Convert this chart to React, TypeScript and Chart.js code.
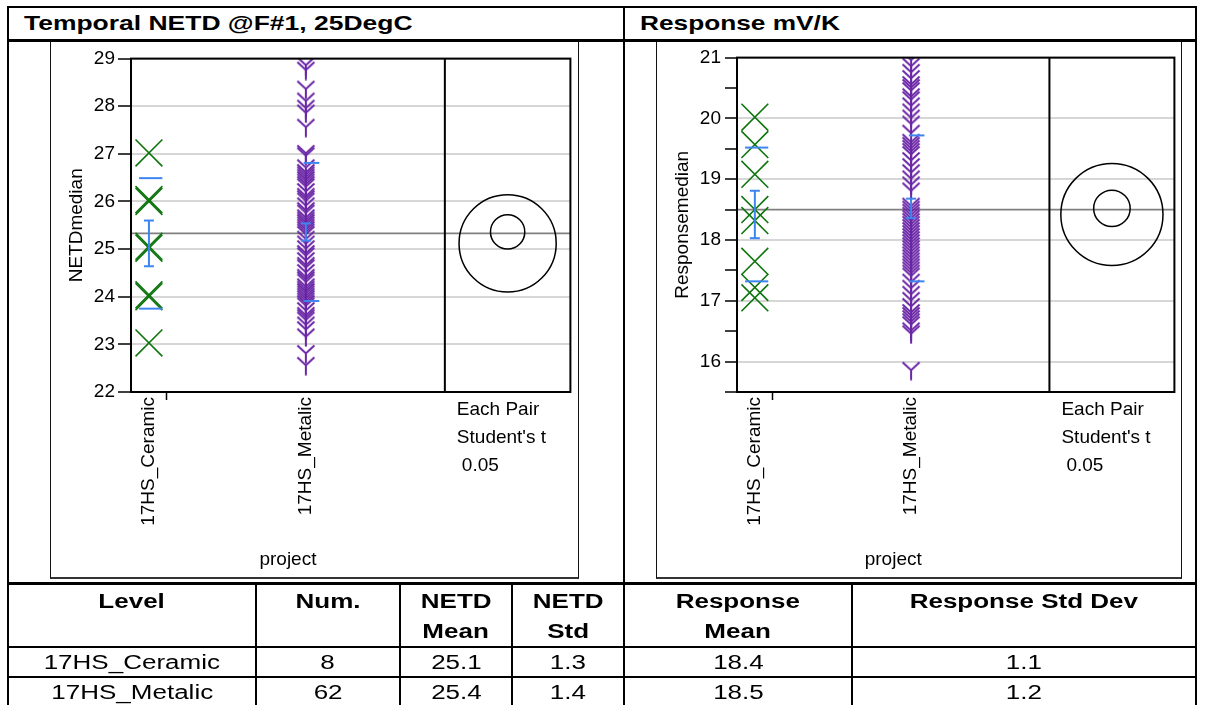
import React, { useEffect, useRef } from "react";
import { Chart, registerables } from "chart.js";
Chart.register(...registerables);

const FONT = "'Liberation Sans', Arial, Helvetica, sans-serif";
Chart.defaults.font.family = FONT;

// ---------- data ----------
const levels = ["17HS_Ceramic", "17HS_Metalic"];
const levelCounts = [8, 62];

const netdCeramic = [27.02, 26.04, 26.0, 25.06, 25.02, 24.04, 24.0, 23.03];
const netdMetalic = [
  28.85, 28.75, 28.35, 28.1, 27.95, 27.85, 27.55, 27.0, 26.95,
  26.7, 26.6, 26.55, 26.5, 26.45, 26.4, 26.35, 26.3, 26.2, 26.1,
  26.05, 26.0, 25.9, 25.8, 25.75, 25.65, 25.6, 25.55, 25.5, 25.45,
  25.4, 25.35, 25.3, 25.2, 25.1, 25.0, 24.9, 24.85, 24.75, 24.65,
  24.6, 24.5, 24.4, 24.35, 24.3, 24.2, 24.15, 24.1, 24.05, 24.0,
  23.95, 23.9, 23.85, 23.8, 23.7, 23.6, 23.55, 23.5, 23.4, 23.3, 23.15,
  22.8, 22.55,
];
const respCeramic = [20.02, 19.57, 19.08, 18.5, 18.32, 17.65, 17.22, 17.05];
const respMetalic = [
  20.95, 20.85, 20.75, 20.65, 20.55, 20.5, 20.45, 20.35, 20.3, 20.2, 20.1, 20.0, 19.9, 19.75,
  19.6, 19.55, 19.5, 19.45, 19.4, 19.3, 19.2, 19.1, 19.0, 18.9, 18.8,
  18.5, 18.45, 18.4, 18.35, 18.3, 18.25, 18.2, 18.15, 18.1, 18.05, 18.0, 17.95,
  17.9, 17.85, 17.8, 17.75, 17.7, 17.65, 17.6, 17.55, 17.5, 17.45, 17.4,
  17.3, 17.2, 17.1, 17.0, 16.9, 16.8, 16.75, 16.7, 16.65, 16.6, 16.5, 16.45,
  15.85, 18.55,
];

const netdMeans = [25.12, 25.36];
const netdStdDevs = [1.37, 1.45];
const netdStdErrs = [0.48, 0.18];
const netdCompRadii = [1.02, 0.36];
const netdGrandMean = 25.33;
const netdAxisMin = 22;
const netdAxisMax = 29;
const netdAxisStep = 1;

const respMeans = [18.42, 18.52];
const respStdDevs = [1.1, 1.2];
const respStdErrs = [0.39, 0.16];
const respCompRadii = [0.84, 0.3];
const respGrandMean = 18.5;
const respAxisMin = 15.5;
const respAxisMax = 21;
const respAxisStep = 0.5;

const tableNum = ["8", "62"];
const tableNetdMean = ["25.1", "25.4"];
const tableNetdStd = ["1.3", "1.4"];
const tableRespMean = ["18.4", "18.5"];
const tableRespStd = ["1.1", "1.2"];

// ---------- styles ----------
const GREEN = "#0f760f";
const PURPLE = "#6a26a6";
const BLUE = "#3d85f0";
const GRID = "#d6d6d6";
const MEANLINE = "#808080";
const STD_SPAN = [[-2.2, 3.0], [-0.5, 3.0]];

function isInt(v: number) {
  return Math.abs(v - Math.round(v)) < 1e-6;
}

function makeYMarker(color: string) {
  const c = document.createElement("canvas");
  c.width = 20;
  c.height = 20;
  const g = c.getContext("2d")!;
  g.strokeStyle = color;
  g.lineWidth = 2;
  g.beginPath();
  g.moveTo(1.5, 1.5);
  g.lineTo(10, 9.5);
  g.lineTo(18.5, 1.5);
  g.moveTo(10, 9.5);
  g.lineTo(10, 19.5);
  g.stroke();
  return c;
}

type PanelCfg = {
  series: number[][];
  means: number[];
  stdDevs: number[];
  stdErrs: number[];
  compRadii: number[];
  grandMean: number;
  min: number;
  max: number;
  step: number;
  yTitle: string;
  padTop: number;
  tickLen: number;
  tickPad: number;
};

function JmpChart({ left, top, width, height, cfg }: { left: number; top: number; width: number; height: number; cfg: PanelCfg }) {
  const ref = useRef<HTMLCanvasElement>(null);
  useEffect(() => {
    const total = levelCounts.reduce((a, b) => a + b, 0);
    const starts = levelCounts.map((_, i) => levelCounts.slice(0, i).reduce((a, b) => a + b, 0));
    const centers = levelCounts.map((n, i) => starts[i] + n / 2);
    const bounds = starts.slice(1);
    const xMax = total * 1.4;
    const xTicks = [...centers, ...bounds].sort((a, b) => a - b);
    const yImg = makeYMarker(PURPLE);

    const plugin = {
      id: "jmpOverlay",
      beforeDatasetsDraw(chart: any) {
        const { ctx, chartArea: a } = chart;
        const y = chart.scales.y;
        ctx.save();
        ctx.strokeStyle = MEANLINE;
        ctx.lineWidth = 1.6;
        const gy = y.getPixelForValue(cfg.grandMean);
        ctx.beginPath();
        ctx.moveTo(a.left, gy);
        ctx.lineTo(a.right, gy);
        ctx.stroke();
        ctx.restore();
      },
      afterDatasetsDraw(chart: any) {
        const { ctx, chartArea: a } = chart;
        const x = chart.scales.x;
        const y = chart.scales.y;
        const seg = (x1: number, y1: number, x2: number, y2: number) => {
          ctx.beginPath();
          ctx.moveTo(x1, y1);
          ctx.lineTo(x2, y2);
          ctx.stroke();
        };
        ctx.save();
        ctx.strokeStyle = BLUE;
        ctx.lineWidth = 2;
        centers.forEach((c, i) => {
          const m = cfg.means[i];
          const sd = cfg.stdDevs[i];
          const se = cfg.stdErrs[i];
          [m + sd, m - sd].forEach((v) => {
            const py = y.getPixelForValue(v);
            seg(x.getPixelForValue(c + STD_SPAN[i][0]), py, x.getPixelForValue(c + STD_SPAN[i][1]), py);
          });
          const px = x.getPixelForValue(c);
          const t = y.getPixelForValue(m + se);
          const b = y.getPixelForValue(m - se);
          seg(px, t, px, b);
          seg(px - 5, t, px + 5, t);
          seg(px - 5, b, px + 5, b);
        });
        ctx.strokeStyle = "#000";
        ctx.lineWidth = 2;
        ctx.strokeRect(a.left, a.top, a.right - a.left, a.bottom - a.top);
        const dx = x.getPixelForValue(total);
        seg(dx, a.top, dx, a.bottom);
        ctx.lineWidth = 1.5;
        const cx = x.getPixelForValue((total + xMax) / 2);
        cfg.means.forEach((m, i) => {
          const cy = y.getPixelForValue(m);
          const r = Math.abs(y.getPixelForValue(m + cfg.compRadii[i]) - cy);
          ctx.beginPath();
          ctx.arc(cx, cy, r, 0, Math.PI * 2);
          ctx.stroke();
        });
        ctx.fillStyle = "#000";
        ctx.font = `19px ${FONT}`;
        ctx.textBaseline = "middle";
        ctx.textAlign = "left";
        ctx.fillText("Each Pair", dx + 12, a.bottom + 18);
        ctx.fillText("Student's t", dx + 12, a.bottom + 46);
        ctx.fillText("0.05", dx + 17, a.bottom + 74);
        ctx.textAlign = "center";
        ctx.fillText("project", (x.getPixelForValue(0) + dx) / 2, a.bottom + 168);
        ctx.restore();
      },
    };

    const chart = new Chart(ref.current!, {
      type: "scatter",
      data: {
        datasets: [
          {
            data: cfg.series[0].map((v) => ({ x: centers[0], y: v })),
            pointStyle: "crossRot",
            pointRadius: 19,
            borderColor: GREEN,
            backgroundColor: "transparent",
            borderWidth: 1.6,
          } as any,
          {
            data: cfg.series[1].map((v) => ({ x: centers[1], y: v })),
            pointStyle: yImg,
            pointRadius: 10,
            borderColor: PURPLE,
            backgroundColor: PURPLE,
          } as any,
        ],
      },
      options: {
        responsive: false,
        animation: false,
        devicePixelRatio: 1,
        layout: { padding: { top: cfg.padTop, right: 7, left: 0, bottom: 0 } },
        plugins: { legend: { display: false }, tooltip: { enabled: false } },
        scales: {
          x: {
            type: "linear",
            min: 0,
            max: xMax,
            afterFit: (s: any) => {
              s.height = 186;
              s.paddingLeft = 0;
              s.paddingRight = 0;
            },
            afterBuildTicks: (s: any) => {
              s.ticks = xTicks.map((v) => ({ value: v }));
            },
            ticks: {
              autoSkip: false,
              minRotation: 90,
              maxRotation: 90,
              padding: -3,
              color: "#000",
              font: { size: 19, family: FONT },
              callback: (v: any) => {
                const i = centers.findIndex((c) => Math.abs(c - Number(v)) < 1e-9);
                return i >= 0 ? levels[i] : "";
              },
            },
            grid: {
              drawOnChartArea: false,
              tickLength: 8,
              tickWidth: 1.5,
              tickColor: (ctx: any) =>
                ctx.tick && bounds.some((b) => Math.abs(b - ctx.tick.value) < 1e-9) ? "#000" : "transparent",
            },
            border: { display: true, color: "#000", width: 2 },
          },
          y: {
            type: "linear",
            min: cfg.min,
            max: cfg.max,
            afterFit: (s: any) => {
              s.width = 79;
              s.paddingTop = 0;
              s.paddingBottom = 0;
            },
            ticks: {
              stepSize: cfg.step,
              autoSkip: false,
              color: "#000",
              padding: cfg.tickPad,
              font: { size: 19, family: FONT },
              callback: (v: any) => (isInt(Number(v)) ? String(Math.round(Number(v))) : ""),
            },
            grid: {
              color: (ctx: any) => (ctx.tick && isInt(ctx.tick.value) ? GRID : "transparent"),
              lineWidth: 2,
              tickLength: cfg.tickLen,
              tickColor: "#000",
              tickWidth: 1.5,
            },
            border: { display: true, color: "#000", width: 2 },
            title: {
              display: true,
              text: cfg.yTitle,
              color: "#000",
              font: { size: 19, family: FONT },
              padding: { top: 13, bottom: 0 },
            },
          },
        },
      } as any,
      plugins: [plugin as any],
    });
    return () => chart.destroy();
  }, []);
  return (
    <canvas
      ref={ref}
      width={width}
      height={height}
      style={{ position: "absolute", left, top, width, height }}
    />
  );
}

const netdCfg: PanelCfg = {
  series: [netdCeramic, netdMetalic],
  means: netdMeans,
  stdDevs: netdStdDevs,
  stdErrs: netdStdErrs,
  compRadii: netdCompRadii,
  grandMean: netdGrandMean,
  min: netdAxisMin,
  max: netdAxisMax,
  step: netdAxisStep,
  yTitle: "NETDmedian",
  padTop: 17,
  tickLen: 13,
  tickPad: 3,
};

const respCfg: PanelCfg = {
  series: [respCeramic, respMetalic],
  means: respMeans,
  stdDevs: respStdDevs,
  stdErrs: respStdErrs,
  compRadii: respCompRadii,
  grandMean: respGrandMean,
  min: respAxisMin,
  max: respAxisMax,
  step: respAxisStep,
  yTitle: "Responsemedian",
  padTop: 16,
  tickLen: 12,
  tickPad: 4,
};

function Line({ x, y, w, h }: { x: number; y: number; w: number; h: number }) {
  return <div style={{ position: "absolute", left: x, top: y, width: w, height: h, background: "#000" }} />;
}

function Cell({ x, w, y, lines, bold }: { x: number; w: number; y: number; lines: string[]; bold?: boolean }) {
  return (
    <div
      style={{
        position: "absolute",
        left: x,
        top: y,
        width: w,
        textAlign: "center",
        fontSize: 20,
        lineHeight: "30px",
        fontWeight: bold ? "bold" : "normal",
        whiteSpace: "nowrap",
      }}
    >
      {lines.map((t, i) => (
        <div key={i}>
          <span style={{ display: "inline-block", transform: "scaleX(1.3)" }}>{t}</span>
        </div>
      ))}
    </div>
  );
}

export default function App() {
  const cols = [8, 256, 400, 512, 624, 852, 1196];
  const headers = [["Level"], ["Num."], ["NETD", "Mean"], ["NETD", "Std"], ["Response", "Mean"], ["Response Std Dev"]];
  const rows = levels.map((lv, i) => [lv, tableNum[i], tableNetdMean[i], tableNetdStd[i], tableRespMean[i], tableRespStd[i]]);
  return (
    <div
      style={{
        position: "absolute",
        left: 0,
        top: 0,
        width: 1208,
        height: 705,
        overflow: "hidden",
        background: "#fff",
        fontFamily: FONT,
        color: "#000",
      }}
    >
      <div style={{ position: "absolute", left: 24, top: 6, lineHeight: "33px", fontSize: 21, fontWeight: "bold", whiteSpace: "nowrap", transform: "scaleX(1.26)", transformOrigin: "left center" }}>
        Temporal NETD @F#1, 25DegC
      </div>
      <div style={{ position: "absolute", left: 640, top: 6, lineHeight: "33px", fontSize: 21, fontWeight: "bold", whiteSpace: "nowrap", transform: "scaleX(1.25)", transformOrigin: "left center" }}>
        Response mV/K
      </div>

      <div style={{ position: "absolute", left: 50, top: 41, width: 527, height: 536, borderLeft: "1.5px solid #111", borderRight: "1.5px solid #111", borderBottom: "2px solid #333" }} />
      <div style={{ position: "absolute", left: 656, top: 41, width: 524, height: 536, borderLeft: "1.5px solid #111", borderRight: "1.5px solid #111", borderBottom: "2px solid #333" }} />

      <JmpChart left={52} top={38} width={539} height={540} cfg={netdCfg} />
      <JmpChart left={658} top={37} width={537} height={541} cfg={respCfg} />

      <Line x={7} y={6} w={1190} h={2} />
      <Line x={7} y={39} w={1190} h={3} />
      <Line x={7} y={6} w={2} h={699} />
      <Line x={623} y={6} w={2} h={699} />
      <Line x={1195} y={6} w={2} h={699} />
      <Line x={7} y={582} w={1190} h={3} />
      <Line x={7} y={646} w={1190} h={2} />
      <Line x={7} y={676} w={1190} h={2} />
      {[256, 400, 512, 852].map((x) => (
        <Line key={x} x={x - 1} y={583} w={2} h={122} />
      ))}

      {headers.map((h, i) => (
        <Cell key={"h" + i} x={cols[i]} w={cols[i + 1] - cols[i]} y={586} lines={h} bold />
      ))}
      {rows.map((r, ri) =>
        r.map((t, ci) => (
          <Cell key={ri + "-" + ci} x={cols[ci]} w={cols[ci + 1] - cols[ci]} y={647 + ri * 30} lines={[t]} />
        ))
      )}
    </div>
  );
}
